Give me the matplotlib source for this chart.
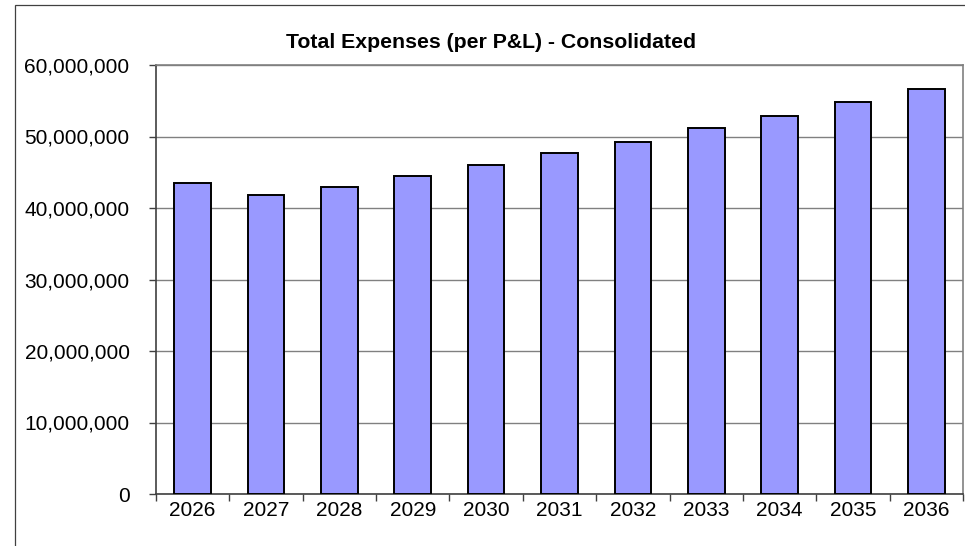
import matplotlib
matplotlib.use("Agg")
import matplotlib.pyplot as plt
import matplotlib.ticker as mticker
from matplotlib.patches import Rectangle

plt.rcParams['font.family'] = ['Liberation Sans', 'DejaVu Sans']

# data
years = ['2026', '2027', '2028', '2029', '2030', '2031',
         '2032', '2033', '2034', '2035', '2036']
expenses = [43500000, 41800000, 42900000, 44500000, 46050000, 47650000,
            49200000, 51200000, 52900000, 54800000, 56600000]
y_ticks = [0, 10000000, 20000000, 30000000, 40000000, 50000000, 60000000]

fig = plt.figure(figsize=(9.65, 5.46), dpi=100)
ax = fig.add_axes([156 / 965, 52 / 546, (963 - 156) / 965, (494 - 65) / 546])

# outer chart frame (cropped on the right and bottom)
fig.patches.append(Rectangle((15 / 965, -0.2), 1.2, 1.2 - 4.5 / 546,
                             transform=fig.transFigure, fill=False,
                             edgecolor='#404040', linewidth=0.9))

x = list(range(len(years)))
ax.bar(x, expenses, width=0.5, color='#9999FF', edgecolor='black',
       linewidth=1.4, zorder=3)

ax.set_xlim(-0.5, len(years) - 0.5)
ax.set_ylim(0, 60000000)
ax.set_yticks(y_ticks)
ax.yaxis.set_major_formatter(mticker.FuncFormatter(lambda v, p: f"{int(v):,}"))
ax.yaxis.grid(True, color='#808080', linewidth=1.0, zorder=0)

# category boundaries as ticks, labels in the middle
ax.set_xticks([i - 0.5 for i in range(len(years) + 1)])
ax.set_xticklabels([])
ax.set_xticks(x, minor=True)
ax.set_xticklabels(years, minor=True)
ax.tick_params(axis='x', which='major', length=5, width=1, color='#404040')
ax.tick_params(axis='x', which='minor', length=0, pad=5, labelsize=15)
ax.tick_params(axis='y', length=5, width=1, color='#404040', pad=14,
               labelsize=15)

for side in ['top', 'right']:
    ax.spines[side].set_color('#808080')
    ax.spines[side].set_linewidth(1.2)
for side in ['left', 'bottom']:
    ax.spines[side].set_color('#404040')
    ax.spines[side].set_linewidth(1.2)

fig.text(491 / 965, 1 - 42 / 546, 'Total Expenses (per P&L) - Consolidated',
         ha='center', va='center', fontsize=15.3, fontweight='bold')

fig.savefig('out.png', dpi=100)
